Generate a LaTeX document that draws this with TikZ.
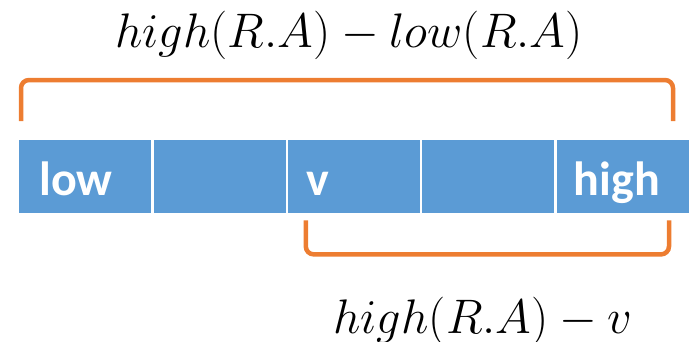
\RequirePackage{fix-cm}
\documentclass[tikz,border=0pt]{standalone}
\usepackage{fontspec}
\setmainfont{Carlito}
\usetikzlibrary{positioning}
\definecolor{cellblue}{HTML}{5B9BD5}
\definecolor{braceorange}{HTML}{ED7D31}
\begin{document}
\begin{tikzpicture}[x=1pt, y=-1pt,
  cell/.style={rectangle, fill=cellblue, minimum width=132pt,
               minimum height=73pt, inner sep=0pt},
  lbl/.style={font=\fontsize{48}{50}\selectfont\bfseries, text=white,
              anchor=base west, inner sep=0pt},
  brace/.style={draw=braceorange, line width=4.5pt, rounded corners=8pt},
  expr/.style={font=\fontsize{48.5}{52}\selectfont, anchor=base, inner sep=0pt},
]
  \useasboundingbox (0,0) rectangle (689,341);

  % row of cells
  \node[cell, anchor=north west] (c1) at (19,140) {};
  \node[cell, right=2pt of c1] (c2) {};
  \node[cell, right=2pt of c2] (c3) {};
  \node[cell, right=2pt of c3] (c4) {};
  \node[cell, right=2pt of c4] (c5) {};

  \node[lbl] (tlow)  at ([shift={(20,18.5)}]c1.west) {low};
  \node[lbl] (tv)    at ([shift={(18,18.5)}]c3.west) {v};
  \node[lbl] (thigh) at ([shift={(17,18.5)}]c5.west) {high};

  % brackets
  \draw[brace] ([shift={(2,-19)}]c1.north west)
    |- ([shift={(-16,-60)}]c5.north east)
    -- ([shift={(-16,-19)}]c5.north east);
  \draw[brace] ([shift={(18,7)}]c3.south west)
    |- ([shift={(-20,41)}]c5.south east)
    -- ([shift={(-20,7)}]c5.south east);

  \node[expr] (etop) at (349,47) {$high(R.A)-low(R.A)$};
  \node[expr] (ebot) at (483,333) {$high(R.A)-v$};
\end{tikzpicture}
\end{document}
